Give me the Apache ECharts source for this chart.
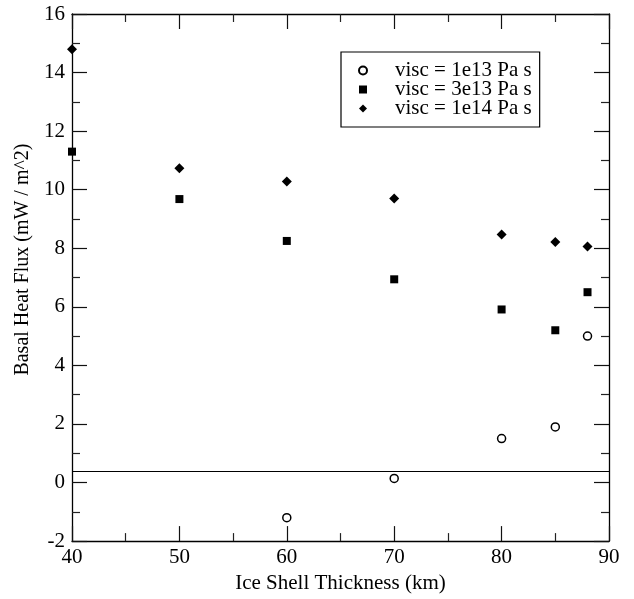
<!DOCTYPE html>
<html>
<head>
<meta charset="utf-8">
<script src="https://cdn.jsdelivr.net/npm/echarts@6/dist/echarts.min.js"></script>
<style>
html,body{margin:0;padding:0;background:#fff;}
#chart{width:634px;height:599px;}
</style>
</head>
<body>
<div id="chart"></div>
<script>
// Data
var thickness1e13 = [60, 70, 80, 85, 88];
var flux1e13 = [-1.2, 0.14, 1.5, 1.9, 5.0];
var thickness3e13 = [40, 50, 60, 70, 80, 85, 88];
var flux3e13 = [11.3, 9.68, 8.25, 6.94, 5.91, 5.2, 6.5];
var thickness1e14 = [40, 50, 60, 70, 80, 85, 88];
var flux1e14 = [14.8, 10.73, 10.28, 9.7, 8.47, 8.21, 8.06];
var seriesNames = ['visc = 1e13 Pa s', 'visc = 3e13 Pa s', 'visc = 1e14 Pa s'];
var referenceLineValue = 0.4;
var xTicks = [40, 50, 60, 70, 80, 90];
var yTicks = [-2, 0, 2, 4, 6, 8, 10, 12, 14, 16];

function pairs(xs, ys){ return xs.map(function(x,i){ return [x, ys[i]]; }); }

var FONT = '"Liberation Serif", "Times New Roman", serif';
var chart = echarts.init(document.getElementById('chart'), null, {renderer:'canvas'});

function xAxisBase(pos, showLabel){
  return {
    type:'value', position:pos, min:xTicks[0], max:xTicks[xTicks.length-1], interval:10,
    axisLine:{show:true, onZero:false, lineStyle:{color:'#000', width:1.3}},
    axisTick:{show:true, inside:true, length:15, lineStyle:{color:'#111', width:1.2}},
    minorTick:{show:true, splitNumber:2, length:8, lineStyle:{color:'#222', width:1.2}},
    splitLine:{show:false},
    axisLabel:{show:showLabel, color:'#000', fontFamily:FONT, fontSize:21, margin:6},
  };
}
function yAxisBase(pos, showLabel){
  return {
    type:'value', position:pos, min:yTicks[0], max:yTicks[yTicks.length-1], interval:2,
    axisLine:{show:true, onZero:false, lineStyle:{color:'#000', width:1.3}},
    axisTick:{show:true, inside:true, length:15, lineStyle:{color:'#111', width:1.2}},
    minorTick:{show:true, splitNumber:2, length:8, lineStyle:{color:'#222', width:1.2}},
    splitLine:{show:false},
    axisLabel:{show:showLabel, color:'#000', fontFamily:FONT, fontSize:21, margin:7},
  };
}

var xb = xAxisBase('bottom', true);
xb.name = 'Ice Shell Thickness (km)';
xb.nameLocation = 'middle';
xb.nameGap = 31;
xb.nameTextStyle = {color:'#000', fontFamily:FONT, fontSize:21};
var xt = xAxisBase('top', false);
var yl = yAxisBase('left', true);
yl.name = 'Basal Heat Flux (mW / m^2)';
yl.nameLocation = 'middle';
yl.nameGap = 33;
yl.nameTextStyle = {color:'#000', fontFamily:FONT, fontSize:20, padding:[0,0,0,36]};
var yr = yAxisBase('right', false);

var option = {
  backgroundColor:'#fff',
  animation:false,
  grid:{left:72, right:25, top:14, bottom:50, containLabel:false},
  xAxis:[xb, xt],
  yAxis:[yl, yr],
  legend:{
    show:true, orient:'vertical', left:341, top:52,
    data:seriesNames,
    borderColor:'#000', borderWidth:1.2, backgroundColor:'#fff',
    padding:[8, 8, 8, 17], itemGap:-2, itemWidth:8, itemHeight:8,
    textStyle:{color:'#000', fontFamily:FONT, fontSize:21, lineHeight:19, padding:[0,0,0,23]},
  },
  series:[
    {
      name:seriesNames[0], type:'scatter', xAxisIndex:0, yAxisIndex:0,
      symbol:'circle', symbolSize:8,
      itemStyle:{color:'#fff', borderColor:'#000', borderWidth:1.5, opacity:1},
      data:pairs(thickness1e13, flux1e13),
      markLine:{
        silent:true, symbol:['none','none'], label:{show:false},
        lineStyle:{color:'#000', width:1.2, type:'solid'},
        data:[{yAxis:referenceLineValue}]
      },
      z:3
    },
    {
      name:seriesNames[1], type:'scatter', xAxisIndex:0, yAxisIndex:0,
      symbol:'rect', symbolSize:8,
      itemStyle:{color:'#000', opacity:1},
      data:pairs(thickness3e13, flux3e13), z:3
    },
    {
      name:seriesNames[2], type:'scatter', xAxisIndex:0, yAxisIndex:0,
      symbol:'diamond', symbolSize:10,
      itemStyle:{color:'#000', opacity:1},
      data:pairs(thickness1e14, flux1e14), z:3
    }
  ]
};
chart.setOption(option);
</script>
</body>
</html>
